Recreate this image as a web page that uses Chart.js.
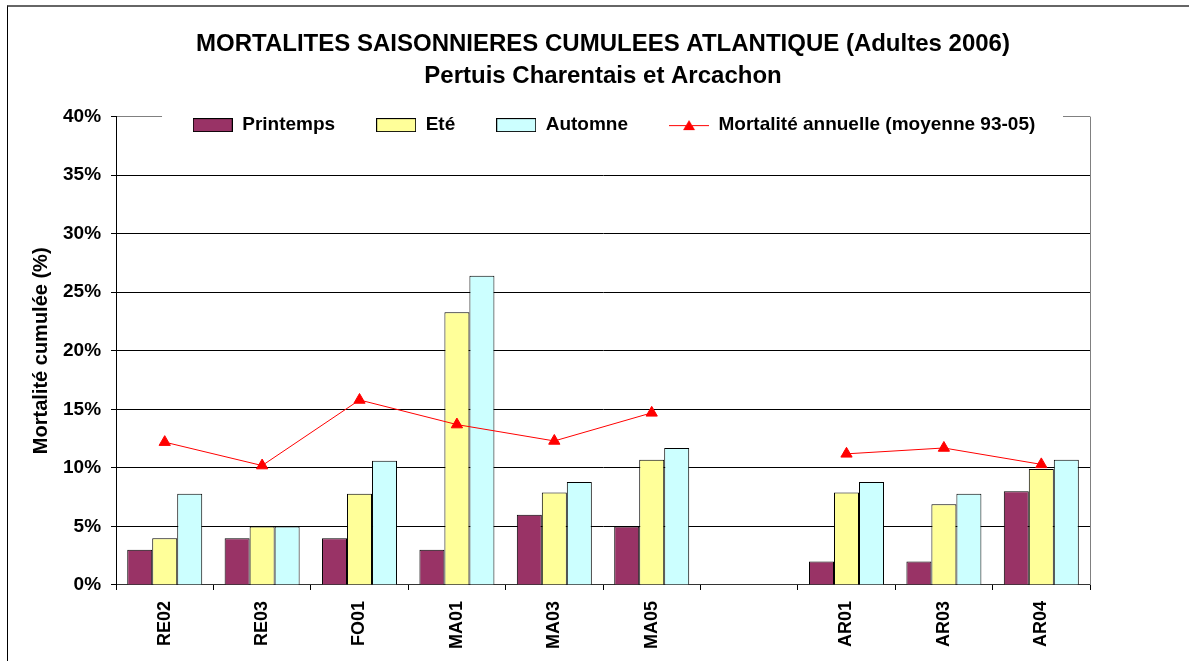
<!DOCTYPE html>
<html>
<head>
<meta charset="utf-8">
<script src="https://cdn.jsdelivr.net/npm/chart.js@4"></script>
<style>
  html, body { margin: 0; padding: 0; overflow: hidden; background: #fff; }
  #frame { position: absolute; left: 7px; top: 5px; width: 1400px; height: 900px; border-top: 2px solid #666; border-left: 1px solid #000; }
  #chart { position: absolute; left: 0; top: 0; }
</style>
</head>
<body>
<div id="frame"></div>
<canvas id="chart" width="1189" height="661"></canvas>
<script>
// sites (empty slot = gap between Pertuis and Arcachon)
const stations = ["RE02", "RE03", "FO01", "MA01", "MA03", "MA05", "", "AR01", "AR03", "AR04"];
const printemps = [3, 4, 4, 3, 6, 5, null, 2, 2, 8];
const ete = [4, 5, 7.8, 23.3, 7.9, 10.7, null, 7.9, 6.9, 9.9];
const automne = [7.8, 5, 10.6, 26.4, 8.8, 11.7, null, 8.8, 7.8, 10.7];
const moyenne = [12.2, 10.2, 15.8, 13.7, 12.3, 14.7, null, 11.2, 11.7, 10.3];
const yTickLabels = ["0%", "5%", "10%", "15%", "20%", "25%", "30%", "35%", "40%"];

Chart.defaults.font.family = "'Liberation Sans', Arial, sans-serif";
Chart.defaults.color = "#000";

// petites icones de legende (rectangle 40x14, trait + triangle)
function boxIcon(fill) {
  const c = document.createElement("canvas");
  c.width = 40; c.height = 14;
  const g = c.getContext("2d");
  g.fillStyle = fill;
  g.fillRect(0.5, 0.5, 39, 13);
  g.strokeStyle = "#000";
  g.strokeRect(0.5, 0.5, 39, 13);
  return c;
}
function lineIcon() {
  const c = document.createElement("canvas");
  c.width = 40; c.height = 14;
  const g = c.getContext("2d");
  g.strokeStyle = "#ff0000";
  g.beginPath(); g.moveTo(0, 7.5); g.lineTo(40, 7.5); g.stroke();
  g.fillStyle = "#ff0000";
  g.beginPath(); g.moveTo(20, 2); g.lineTo(26, 12); g.lineTo(14, 12); g.closePath(); g.fill();
  return c;
}
const legendIcons = [boxIcon("#993366"), boxIcon("#ffff99"), boxIcon("#ccffff"), lineIcon()];

// legende dans la zone du graphique, sur fond blanc ; titres centres sur la zone
const legendInside = {
  id: "legendInside",
  afterInit(chart) {
    const lg = chart.legend;
    const fit = lg.fit;
    lg.fit = function () { fit.call(this); this.height = 0; };
  },
  afterLayout(chart) {
    const lg = chart.legend, a = chart.chartArea;
    lg.top = a.top - 42;
    lg.bottom = a.top + 40;
    lg.left = a.left;
    lg.right = 2 * 614 - a.left;
    chart.boxes.forEach((b) => {
      if (b !== lg && b.options && typeof b.options.text === "string") {
        b.left = a.left;
        b.right = a.right;
      }
    });
  },
  beforeDatasetsDraw(chart) {
    const { ctx, chartArea: a } = chart;
    ctx.save();
    ctx.strokeStyle = "#808080";
    ctx.lineWidth = 1;
    ctx.beginPath();
    ctx.moveTo(a.right + 0.5, a.top);
    ctx.lineTo(a.right + 0.5, a.bottom);
    ctx.stroke();
    ctx.fillStyle = "#fff";
    ctx.fillRect(a.left + 46, a.top - 2, a.right - 27 - (a.left + 46), 26);
    ctx.restore();
    chart.legend.draw();
  }
};

new Chart(document.getElementById("chart"), {
  type: "bar",
  data: {
    labels: stations,
    datasets: [
      { label: "Printemps", data: printemps, backgroundColor: "#993366", borderColor: "#000", borderWidth: 1 },
      { label: "Eté", data: ete, backgroundColor: "#ffff99", borderColor: "#000", borderWidth: 1 },
      { label: "Automne", data: automne, backgroundColor: "#ccffff", borderColor: "#000", borderWidth: 1 },
      {
        type: "line",
        label: "Mortalité annuelle (moyenne 93-05)",
        data: moyenne,
        borderColor: "#ff0000",
        backgroundColor: "#ff0000",
        borderWidth: 1,
        pointStyle: "triangle",
        pointRadius: 6.5,
        pointHoverRadius: 6.5,
        spanGaps: false,
        order: -1
      }
    ]
  },
  options: {
    responsive: false,
    animation: false,
    layout: { padding: { left: 20, right: 99, top: 0, bottom: 1 } },
    datasets: { bar: { categoryPercentage: 0.77, barPercentage: 1 } },
    plugins: {
      title: {
        display: true,
        text: "MORTALITES SAISONNIERES CUMULEES ATLANTIQUE (Adultes 2006)",
        font: { size: 24, weight: "bold" },
        padding: { top: 30, bottom: 3 }
      },
      subtitle: {
        display: true,
        text: "Pertuis Charentais et Arcachon",
        color: "#000",
        font: { size: 24, weight: "bold" },
        padding: { top: 0, bottom: 26 }
      },
      legend: {
        labels: {
          usePointStyle: true,
          pointStyleWidth: 40,
          boxHeight: 14,
          padding: 41,
          font: { size: 19, weight: "bold" },
          generateLabels(chart) {
            const items = Chart.defaults.plugins.legend.labels.generateLabels(chart);
            items.forEach((it) => { it.pointStyle = legendIcons[it.datasetIndex]; });
            return items;
          },
          sort: (a, b) => a.datasetIndex - b.datasetIndex
        }
      },
      tooltip: { enabled: false }
    },
    scales: {
      x: {
        ticks: { font: { size: 18, weight: "bold" }, minRotation: 90, maxRotation: 90, autoSkip: false, padding: 11 },
        grid: { drawOnChartArea: false, tickLength: 5, color: "#000" },
        border: { color: "#333" }
      },
      y: {
        min: 0,
        max: 40,
        ticks: {
          stepSize: 5,
          padding: 10,
          font: { size: 19, weight: "bold" },
          callback: (v, i) => yTickLabels[i]
        },
        grid: {
          color: (c) => (c.tick && c.tick.value === 40 ? "#808080" : "#000"),
          tickColor: "#000",
          tickLength: 5
        },
        border: { color: "#000" },
        title: {
          display: true,
          text: "Mortalité cumulée (%)",
          font: { size: 20, weight: "bold" },
          padding: { top: 9, bottom: 0 }
        }
      }
    }
  },
  plugins: [legendInside]
});
</script>
</body>
</html>
